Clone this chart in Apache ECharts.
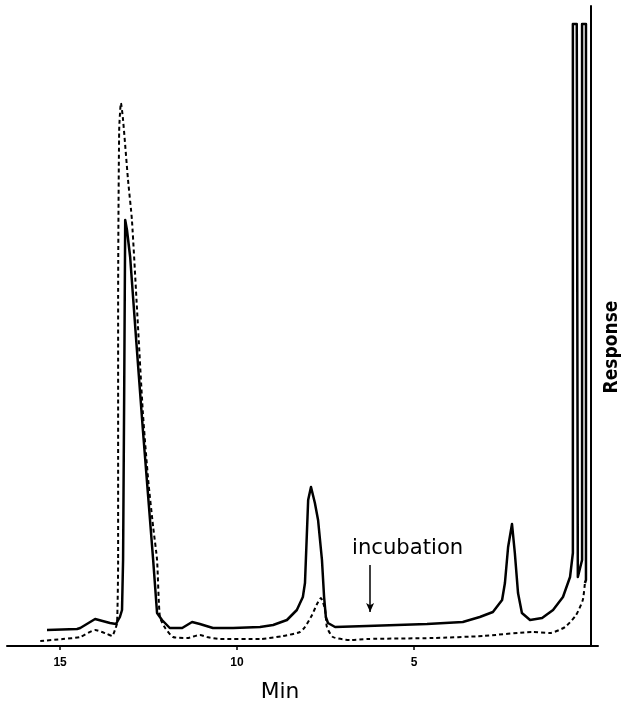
<!DOCTYPE html>
<html>
<head>
<meta charset="utf-8">
<script src="https://cdn.jsdelivr.net/npm/echarts@6/dist/echarts.min.js"></script>
<style>
  html, body { margin: 0; padding: 0; background: #fff; }
  #chart { width: 623px; height: 706px; }
</style>
</head>
<body>
<div id="chart"></div>
<script>
// retention time (min) and detector response
var solidTime = [15.37, 14.52, 14.43, 14.01, 13.59, 13.42, 13.31, 13.25, 13.22, 13.19, 13.16, 13.11, 13.02, 12.85, 12.66, 12.51, 12.37, 12.26, 12.12, 11.90, 11.55, 11.27, 11.05, 10.68, 10.11, 9.35, 8.98, 8.59, 8.31, 8.14, 8.08, 7.99, 7.91, 7.80, 7.71, 7.60, 7.54, 7.49, 7.43, 7.23, 6.33, 4.63, 3.62, 3.14, 2.77, 2.51, 2.43, 2.34, 2.23, 2.15, 2.06, 1.95, 1.72, 1.38, 1.07, 0.79, 0.59, 0.51, 0.51, 0.40, 0.37, 0.34, 0.25, 0.25, 0.14, 0.14, 0.17];
var solidResp = [16, 17, 18, 27, 23, 22, 29, 36, 86, 246, 426, 416, 389, 306, 216, 149, 86, 33, 26, 18, 18, 24, 22, 18, 18, 19, 21, 26, 36, 49, 63, 146, 159, 143, 126, 86, 49, 29, 23, 19, 20, 22, 24, 29, 34, 46, 63, 99, 122, 93, 53, 33, 26, 28, 36, 49, 69, 93, 622, 622, 69, 71, 86, 622, 622, 66, 63];

var dashedTime = [15.56, 14.92, 14.44, 14.01, 13.67, 13.53, 13.45, 13.39, 13.36, 13.36, 13.33, 13.28, 13.22, 13.08, 12.97, 12.82, 12.66, 12.51, 12.37, 12.26, 12.18, 12.03, 11.81, 11.41, 11.05, 10.85, 10.48, 9.35, 8.70, 8.22, 8.08, 7.88, 7.74, 7.63, 7.51, 7.46, 7.29, 6.81, 6.33, 4.46, 3.05, 1.64, 1.16, 0.73, 0.42, 0.23, 0.17];
var dashedResp = [5, 7, 9, 16, 12, 10, 16, 23, 86, 346, 516, 543, 526, 466, 426, 333, 233, 166, 119, 86, 29, 18, 9, 8, 11, 9, 7, 7, 10, 14, 19, 31, 42, 48, 36, 19, 9, 6, 7, 8, 10, 14, 13, 19, 31, 46, 63];

var tickValues = [5, 10, 15];

// "incubation" arrow
var arrowTime = 6.24;
var arrowFrom = 81;
var arrowTo = 34;

function zip(xs, ys) {
  var out = [];
  for (var i = 0; i < xs.length; i++) out.push([xs[i], ys[i]]);
  return out;
}

var chart = echarts.init(document.getElementById('chart'));
var font = '"Liberation Sans Narrow", "DejaVu Sans Condensed", "Liberation Sans", sans-serif';

var option = {
  animation: false,
  backgroundColor: '#fff',
  grid: { left: 7, right: 25, top: 6, bottom: 60 },
  xAxis: {
    type: 'value',
    inverse: true,
    min: -0.2,
    max: 16.5,
    splitLine: { show: false },
    axisLine: { show: true, lineStyle: { color: '#000', width: 2 } },
    axisTick: { show: true, customValues: tickValues, length: 4, lineStyle: { color: '#000', width: 1.5 } },
    axisLabel: {
      show: true,
      customValues: tickValues,
      margin: 11,
      color: '#000',
      fontSize: 12,
      fontWeight: 'bold',
      fontFamily: '"Liberation Sans", sans-serif'
    }
  },
  yAxis: {
    type: 'value',
    min: 0,
    max: 640,
    splitLine: { show: false },
    axisLine: { show: true, onZero: true, lineStyle: { color: '#000', width: 2 } },
    axisTick: { show: false },
    axisLabel: { show: false }
  },
  series: [
    {
      name: 'solid',
      type: 'line',
      data: zip(solidTime, solidResp),
      showSymbol: false,
      symbol: 'none',
      lineStyle: { color: '#000', width: 2.5, join: 'round' },
      z: 3,
      markLine: {
        silent: true,
        symbol: ['none', 'arrow'],
        symbolSize: [6, 9],
        label: { show: false },
        lineStyle: { color: '#000', width: 1.5, type: 'solid' },
        data: [[{ coord: [arrowTime, arrowFrom] }, { coord: [arrowTime, arrowTo] }]]
      }
    },
    {
      name: 'dashed',
      type: 'line',
      data: zip(dashedTime, dashedResp),
      showSymbol: false,
      symbol: 'none',
      smooth: 0.2,
      lineStyle: { color: '#000', width: 2, type: [4, 3] },
      z: 2
    }
  ],
  graphic: [
    {
      type: 'text',
      x: 352, y: 549,
      scaleX: 1.12,
      style: { text: 'incubation', fill: '#000', font: '21px ' + font, verticalAlign: 'middle' }
    },
    {
      type: 'text',
      x: 280, y: 692,
      scaleX: 1.1,
      style: { text: 'Min', fill: '#000', font: '22px ' + font, align: 'center', verticalAlign: 'middle' }
    },
    {
      type: 'text',
      x: 612, y: 347,
      rotation: Math.PI / 2,
      style: { text: 'Response', fill: '#000', font: 'bold 19px ' + font, align: 'center', verticalAlign: 'middle' }
    }
  ]
};

chart.setOption(option);
</script>
</body>
</html>
